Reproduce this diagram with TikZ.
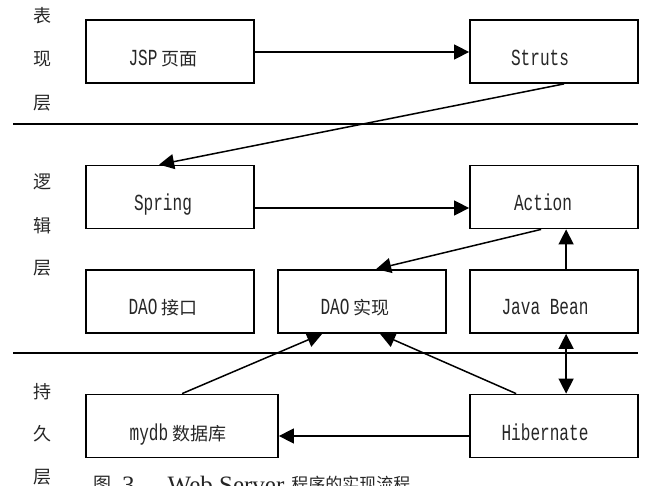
\documentclass[tikz,border=0pt]{standalone}
\usepackage{fontspec}
\usetikzlibrary{arrows.meta,calc}
\newfontfamily\cjkf{Noto Sans CJK SC}
\newfontfamily\monof{Liberation Mono}[FakeStretch=0.7]
\newfontfamily\serifl{Liberation Serif}
\newcommand\lat[1]{{\monof\fontsize{23}{26}\selectfont #1}}
\newcommand\han[1]{{\cjkf\fontsize{18}{20}\selectfont #1}}
\tikzset{
  box/.style={draw, line width=1.8pt, minimum width=168pt, minimum height=63pt, inner sep=0pt},
  txt/.style={anchor=base, inner sep=0pt, text=black!85},
  layer/.style={inner sep=0pt, font=\cjkf\fontsize{18}{20}\selectfont, text=black!85},
  sep/.style={line width=1.2pt},
  arr/.style={line width=1.5pt, -{Triangle[length=15pt,width=15pt]}},
  darr/.style={line width=1.5pt, {Triangle[length=15pt,width=15pt]}-{Triangle[length=15pt,width=15pt]}}
}
\begin{document}
\begin{tikzpicture}[x=1pt,y=-1pt]
\useasboundingbox (0,0) rectangle (648,486);
% layer labels
\node[layer] (l1) at (43,16) {表};
\node[layer] (l2) at (43,59) {现};
\node[layer] (l3) at (43,103) {层};
\node[layer] (l4) at (43,182) {逻};
\node[layer] (l5) at (43,226) {辑};
\node[layer] (l6) at (43,268) {层};
\node[layer] (l7) at (43,392) {持};
\node[layer] (l8) at (43,434) {久};
\node[layer] (l9) at (43,477) {层};
% separators
\coordinate (s1a) at (13,124); \coordinate (s1b) at (638,124);
\coordinate (s2a) at (13,353); \coordinate (s2b) at (638,353);
\draw[sep] (s1a) -- (s1b);
\draw[sep] (s2a) -- (s2b);
% boxes
\node[box] (jsp) at (170,51.5) {};
\node[box] (struts) at (554,51.5) {};
\node[box] (spring) at (170,197) {};
\node[box] (action) at (554,197) {};
\node[box] (daoi) at (170,301.5) {};
\node[box] (daos) at (362,301.5) {};
\node[box] (bean) at (554,301.5) {};
\node[box, minimum width=192pt] (mydb) at (182,426) {};
\node[box] (hib) at (554,426) {};
% box texts
\node[txt] (jspt) at (163,66) {\lat{JSP}\hspace{4pt}\han{页面}};
\node[txt] (strutst) at (540,66) {\lat{Struts}};
\node[txt] (springt) at (163,211) {\lat{Spring}};
\node[txt] (actiont) at (543,211) {\lat{Action}};
\node[txt] (daoit) at (163,315) {\lat{DAO}\hspace{4pt}\han{接口}};
\node[txt] (daost) at (355,315) {\lat{DAO}\hspace{4pt}\han{实现}};
\node[txt] (beant) at (545,315) {\lat{Java Bean}};
\node[txt] (mydbt) at (178,440) {\lat{mydb}\hspace{4pt}\han{数据库}};
\node[txt] (hibt) at (545,440) {\lat{Hibernate}};
% caption (cut by page edge, as in the reference)
\node[anchor=base west, inner sep=0pt, text=black!85] (cap) at (93,493)
  {\raisebox{3pt}{\cjkf\fontsize{18}{20}\selectfont 图}\hspace{11pt}{\serifl\fontsize{25}{28}\selectfont 3\hspace{33pt}Web Server}\hspace{7pt}\raisebox{3pt}{\cjkf\fontsize{17}{20}\selectfont 程序的实现流程}};
% connectors
\draw[arr] ([yshift=-0.5pt]jsp.east) -- ([yshift=-0.5pt]struts.west);
\draw[arr] ([xshift=95pt]struts.south west) -- ([xshift=74pt]spring.north west);
\draw[arr] ([yshift=-11pt]spring.east) -- ([yshift=-11pt]action.west);
\draw[arr] ([xshift=72pt]action.south west) -- ([xshift=99pt]daos.north west);
\draw[arr] ([xshift=97pt]bean.north west) -- ([xshift=97pt]action.south west);
\draw[arr] ([xshift=97pt]mydb.north west) -- ([xshift=45pt]daos.south west);
\draw[arr] ([xshift=47pt]hib.north west) -- ([xshift=103pt]daos.south west);
\draw[darr] ([xshift=97pt]bean.south west) -- ([xshift=97pt]hib.north west);
\draw[arr] ([yshift=-10pt]hib.west) -- ([yshift=-10pt]mydb.east);
\end{tikzpicture}
\end{document}
